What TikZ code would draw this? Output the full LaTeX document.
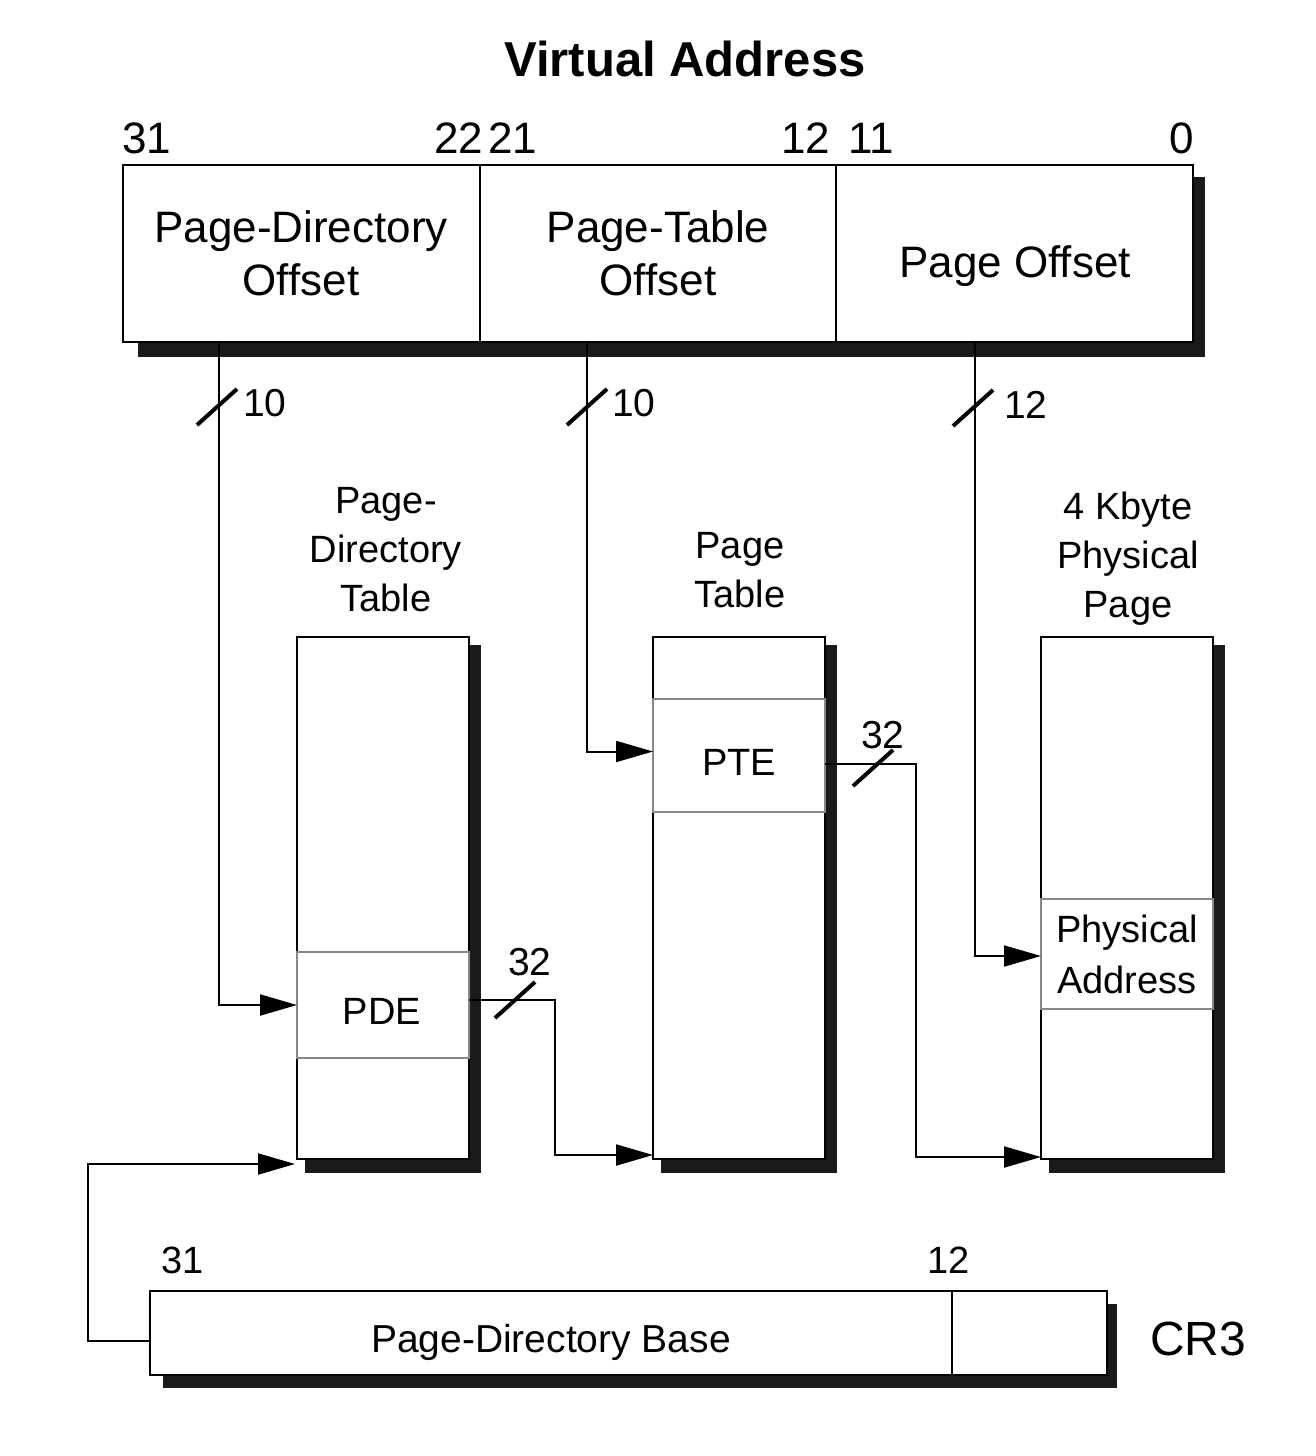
\documentclass[tikz,border=0pt]{standalone}
\usepackage{fontspec}
\setmainfont{Liberation Sans}
\usetikzlibrary{arrows.meta,calc,backgrounds}
\definecolor{shadowc}{HTML}{1A1A1A}
\definecolor{entrygray}{HTML}{888888}
\begin{document}
\begin{tikzpicture}[x=1pt,y=-1pt,
  every node/.style={inner sep=0pt, outer sep=0pt},
  fieldbox/.style={draw, line width=2pt, fill=white, anchor=north west, minimum height=177pt},
  tablebox/.style={draw, line width=2pt, fill=white, anchor=north west, minimum width=172pt, minimum height=522pt},
  entrybox/.style={draw=entrygray, line width=2pt, fill=white, anchor=north west, minimum width=172pt},
  regbox/.style={draw, line width=2pt, fill=white, anchor=north west, minimum height=84pt},
  conn/.style={line width=2pt, -{Triangle[length=37pt,width=21pt]}},
  slashmark/.style={line width=4pt},
  shadowfill/.style={fill=shadowc},
  fieldtxt/.style={font=\fontsize{44}{53}\selectfont, align=center},
  bitnum/.style={font=\fontsize{44}{53}\selectfont},
  tabtitle/.style={font=\fontsize{38}{49}\selectfont, align=center, anchor=north},
  entrytxt/.style={font=\fontsize{38}{51}\selectfont, align=center},
  widthlbl/.style={font=\fontsize{39}{47}\selectfont, anchor=base west},
  smallnum/.style={font=\fontsize{38}{46}\selectfont},
]
\useasboundingbox (0,0) rectangle (1316,1456);

% Virtual address fields
\node[fieldbox, minimum width=357pt] (pdo) at (123,165) {};
\node[fieldbox, minimum width=356pt] (pto) at (480,165) {};
\node[fieldbox, minimum width=357pt] (po) at (836,165) {};
\node[font=\fontsize{49}{58}\selectfont\bfseries, anchor=base] (title) at (685,76) {Virtual Address};
\node[bitnum, anchor=base west] (b31) at (122,153) {31};
\node[bitnum, anchor=base east] (b22) at (483,153) {22};
\node[bitnum, anchor=base west] (b21) at (488,153) {21};
\node[bitnum, anchor=base east] (b12) at (830,153) {12};
\node[bitnum, anchor=base west] (b11) at (848,153) {11};
\node[bitnum, anchor=base east] (b0) at (1194,153) {0};
\node[fieldtxt, anchor=north] (pdoT) at (301,211) {Page-Directory\\Offset};
\node[fieldtxt, anchor=north] (ptoT) at (658,211) {Page-Table\\Offset};
\node[fieldtxt, anchor=base] (poT) at (1015,277) {Page Offset};

% Tables
\node[tablebox] (pd) at (297,637) {};
\node[tablebox] (pt) at (653,637) {};
\node[tablebox] (pp) at (1041,637) {};
\node[entrybox, minimum height=106pt] (pde) at (297,952) {};
\node[entrybox, minimum height=113pt] (pte) at (653,699) {};
\node[entrybox, minimum height=110pt] (pa) at (1041,899) {};
\node[entrytxt, anchor=base] (pdeT) at (382,1024) {PDE};
\node[entrytxt, anchor=base] (pteT) at (739,775) {PTE};
\node[entrytxt, anchor=north] (paT) at (1127,915) {Physical\\Address};
\node[tabtitle] (pdT) at (386,487) {Page-\\Directory\\Table};
\node[tabtitle] (ptT) at (740,532) {Page\\Table};
\node[tabtitle] (ppT) at (1128,492) {4 Kbyte\\Physical\\Page};

% CR3
\node[regbox, minimum width=802pt] (cr3a) at (150,1291) {};
\node[regbox, minimum width=155pt] (cr3b) at (952,1291) {};
\node[font=\fontsize{39}{47}\selectfont, anchor=base] (pdbT) at (551,1352) {Page-Directory Base};
\node[smallnum, anchor=base west] (c31) at (161,1273) {31};
\node[smallnum, anchor=base east] (c12) at (970,1273) {12};
\node[font=\fontsize{48}{56}\selectfont, anchor=base west] (cr3T) at (1150,1355) {CR3};

% Connectors
\draw[conn] ($(pdo.south west)+(96,0)$) |- (pde.west);
\draw[conn] ($(pto.south west)+(107,0)$) |- ($(pte.west)+(0,-4)$);
\draw[conn] ($(po.south west)+(139,0)$) |- ($(pa.west)+(0,2)$);
\draw[conn] ($(pde.east)+(0,-5)$) -- ++(86,0) |- ($(pt.south west)+(0,-4)$);
\draw[conn] ($(pte.east)+(0,8)$) -- ++(91,0) |- ($(pp.south west)+(0,-2)$);
\draw[conn] ($(cr3a.west)+(0,8)$) -- ++(-62,0) |- ($(pd.south west)+(-2,5)$);

% Width slashes
\coordinate (s1) at (217,407);
\coordinate (s2) at (587,407);
\coordinate (s3) at (973,408);
\coordinate (s4) at (515,1000);
\coordinate (s5) at (873,768);
\foreach \s in {s1,s2,s3,s4,s5}
  \draw[slashmark] ($(\s)+(-20,18)$) -- ($(\s)+(20,-18)$);
\node[widthlbl] (w1) at (243,416) {10};
\node[widthlbl] (w2) at (612,416) {10};
\node[widthlbl] (w3) at (1004,418) {12};
\node[widthlbl] (w4) at (508,975) {32};
\node[widthlbl] (w5) at (861,748) {32};

% Shadows
\begin{pgfonlayer}{background}
\fill[white] (0,0) rectangle (1316,1456);
\fill[shadowfill] ($(pdo.north west)+(15,12)$) rectangle ($(po.south east)+(12,15)$);
\fill[shadowfill] ($(pd.north west)+(8,8)$) rectangle ($(pd.south east)+(12,14)$);
\fill[shadowfill] ($(pt.north west)+(8,8)$) rectangle ($(pt.south east)+(12,14)$);
\fill[shadowfill] ($(pp.north west)+(8,8)$) rectangle ($(pp.south east)+(12,14)$);
\fill[shadowfill] ($(cr3a.north west)+(13,13)$) rectangle ($(cr3b.south east)+(10,13)$);
\end{pgfonlayer}
\end{tikzpicture}
\end{document}
